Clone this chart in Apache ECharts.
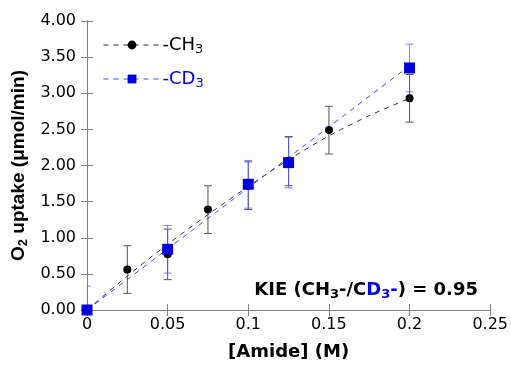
<!DOCTYPE html>
<html>
<head>
<meta charset="utf-8">
<script src="https://cdn.jsdelivr.net/npm/echarts@6/dist/echarts.min.js"></script>
<style>html,body{margin:0;padding:0;background:#fff}#c{width:511px;height:366px}</style>
</head>
<body>
<div id="c"></div>
<script>
// ---- data ----
const xTickLabels = ['0', '0.05', '0.1', '0.15', '0.2', '0.25'];
const yTickLabels = ['0.00', '0.50', '1.00', '1.50', '2.00', '2.50', '3.00', '3.50', '4.00'];

const xCH3 = [0, 0.025, 0.05, 0.075, 0.1, 0.125, 0.15, 0.2];
const yCH3 = [0, 0.56, 0.77, 1.39, 1.72, 2.06, 2.49, 2.93];
const errCH3 = [0, 0.33, 0.35, 0.33, 0.33, 0.34, 0.33, 0.33];

const xCD3 = [0, 0.05, 0.1, 0.125, 0.2];
const yCD3 = [0, 0.84, 1.74, 2.04, 3.35];
const errCD3 = [0.33, 0.33, 0.33, 0.35, 0.33];

// dashed trend curves
const fitXCH3 = [0, 0.025, 0.05, 0.075, 0.1, 0.125, 0.15, 0.175, 0.2];
const fitYCH3 = [0.0, 0.47, 0.91, 1.32, 1.71, 2.08, 2.41, 2.69, 2.93];
const fitXCD3 = [0, 0.2];
const fitYCD3 = [0, 3.38];

const FONT = 'DejaVu Sans, Liberation Sans, Arial, sans-serif';
const FONT_Y = 'Liberation Sans, Arial, Helvetica, sans-serif';
const BLUE = '#0000dd';
const zip = (a, b) => a.map((v, i) => [v, b[i]]);
const zip3 = (a, b, c) => a.map((v, i) => [v, b[i], c[i]]);

function errRender(color, opacity) {
  return function (params, api) {
    const x = api.value(0), y = api.value(1), e = api.value(2);
    if (!e) return null;
    const top = api.coord([x, y + e]);
    const bot = api.coord([x, y - e]);
    const hw = 4;
    const style = { stroke: color, lineWidth: 1, opacity: opacity };
    return {
      type: 'group',
      children: [
        { type: 'line', shape: { x1: top[0], y1: top[1], x2: bot[0], y2: bot[1] }, style },
        { type: 'line', shape: { x1: top[0] - hw, y1: top[1], x2: top[0] + hw, y2: top[1] }, style },
        { type: 'line', shape: { x1: bot[0] - hw, y1: bot[1], x2: bot[0] + hw, y2: bot[1] }, style }
      ]
    };
  };
}

const axisCommon = {
  type: 'value',
  axisLine: { show: true, lineStyle: { color: '#808080', width: 1 } },
  axisTick: { show: true, inside: true, length: 6, lineStyle: { color: '#808080' } },
  splitLine: { show: false }
};

const subBlack = { fontSize: 13, fontFamily: FONT, color: '#000', verticalAlign: 'bottom', padding: [9, 0, 0, 0] };
const subBlue = Object.assign({}, subBlack, { color: BLUE });

const chart = echarts.init(document.getElementById('c'), null, { renderer: 'canvas' });
chart.setOption({
  animation: false,
  backgroundColor: '#fff',
  textStyle: { fontFamily: FONT },
  grid: { left: 87, right: 20, top: 21, bottom: 52 },
  xAxis: [
    Object.assign({}, axisCommon, {
      min: 0, max: 0.25, interval: 0.05, position: 'bottom',
      axisLabel: { color: '#000', fontSize: 16, fontFamily: FONT, margin: 7,
        formatter: (v, i) => xTickLabels[i] },
      name: '[Amide] (M)', nameLocation: 'middle', nameGap: 33,
      nameTextStyle: { fontSize: 18, fontWeight: 'bold', color: '#000', fontFamily: FONT }
    }),
    Object.assign({}, axisCommon, {
      min: 0, max: 0.25, interval: 0.05, position: 'top',
      axisLabel: { show: false }
    })
  ],
  yAxis: [
    Object.assign({}, axisCommon, {
      min: 0, max: 4, interval: 0.5, position: 'left',
      axisLabel: { color: '#000', fontSize: 16, fontFamily: FONT, margin: 11,
        formatter: (v, i) => yTickLabels[i] },
      name: 'O{s|2} uptake (μmol/min)', nameLocation: 'middle', nameGap: 57, nameRotate: 90,
      nameTextStyle: { fontSize: 19, fontWeight: 'bold', color: '#000', fontFamily: FONT_Y,
        rich: { s: { fontSize: 13, fontWeight: 'bold', fontFamily: FONT_Y, verticalAlign: 'bottom', padding: [8, 0, 0, 0] } } }
    }),
    Object.assign({}, axisCommon, {
      min: 0, max: 4, interval: 0.5, position: 'right',
      axisLabel: { show: false }
    })
  ],
  legend: {
    left: 98, top: 31, orient: 'vertical', itemGap: 14,
    itemWidth: 57, itemHeight: 11,
    selectedMode: false,
    textStyle: { fontSize: 18, fontFamily: FONT, color: '#000', padding: [0, 0, 0, -3],
      rich: { s: subBlack } },
    formatter: n => n === 'CH3' ? '-CH{s|3}' : '-CD{s|3}',
    data: [
      { name: 'CH3', lineStyle: { color: '#333', width: 1, type: [5, 5], opacity: 1 }, textStyle: { color: '#000' } },
      { name: 'CD3', lineStyle: { color: '#4444ff', width: 1, type: [5, 5], opacity: 1 },
        textStyle: { color: BLUE, rich: { s: subBlue } } }
    ]
  },
  series: [
    { type: 'line', name: 'fitCH3', data: zip(fitXCH3, fitYCH3), smooth: 0.3, symbol: 'none',
      lineStyle: { color: '#333', width: 1, type: [5, 5] }, z: 2 },
    { type: 'line', name: 'fitCD3', data: zip(fitXCD3, fitYCD3), symbol: 'none',
      lineStyle: { color: '#4444ff', width: 1, type: [5, 5] }, z: 2 },
    { type: 'custom', name: 'errCH3', data: zip3(xCH3, yCH3, errCH3), renderItem: errRender('#555', 1), z: 3, clip: true },
    { type: 'custom', name: 'errCD3', data: zip3(xCD3, yCD3, errCD3), renderItem: errRender('#5555ff', 0.75), z: 3, clip: true },
    { type: 'line', name: 'CH3', data: zip(xCH3, yCH3), symbol: 'circle', symbolSize: 8, showAllSymbol: true,
      itemStyle: { color: '#000' }, lineStyle: { opacity: 0 }, z: 4 },
    { type: 'line', name: 'CD3', data: zip(xCD3, yCD3), symbol: 'rect', symbolSize: 11, showAllSymbol: true,
      itemStyle: { color: BLUE }, lineStyle: { opacity: 0 }, z: 5, clip: false }
  ],
  graphic: [
    {
      type: 'text', right: 33, top: 281,
      style: {
        text: '{k|KIE (CH}{ks|3}{k|-/C}{b|D}{bs|3}{b|-}{k|) = 0.95}',
        fontFamily: FONT,
        rich: {
          k: { fontSize: 18, fontWeight: 'bold', fill: '#000', fontFamily: FONT },
          ks: { fontSize: 13, fontWeight: 'bold', fill: '#000', fontFamily: FONT, verticalAlign: 'bottom', padding: [9, 0, 0, 0] },
          b: { fontSize: 18, fontWeight: 'bold', fill: BLUE, fontFamily: FONT },
          bs: { fontSize: 13, fontWeight: 'bold', fill: BLUE, fontFamily: FONT, verticalAlign: 'bottom', padding: [9, 0, 0, 0] }
        }
      }
    }
  ]
});
</script>
</body>
</html>
